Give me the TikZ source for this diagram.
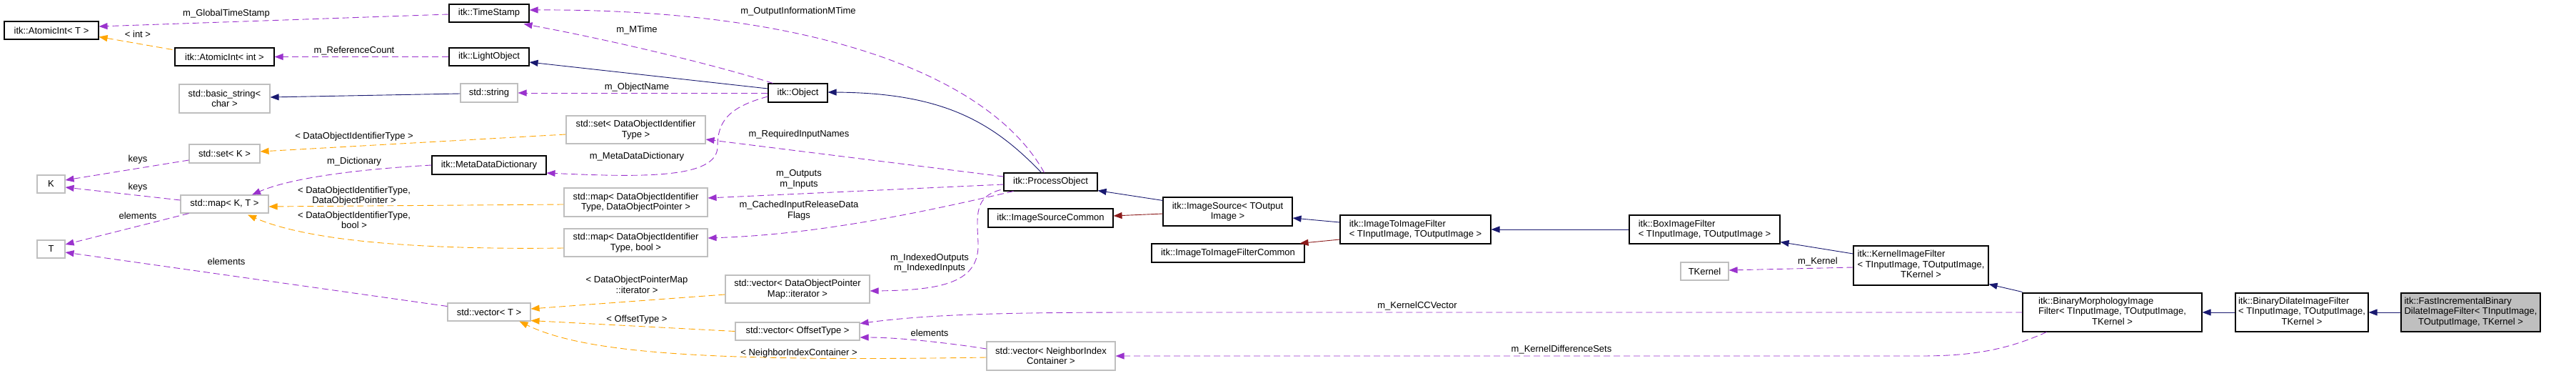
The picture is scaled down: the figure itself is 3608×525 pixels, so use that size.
\documentclass[tikz,border=0pt]{standalone}
\usepackage{fontspec}
\setmainfont{Liberation Sans}
\usetikzlibrary{arrows.meta,calc}
\definecolor{dorchid}{HTML}{9A32CD}
\definecolor{dorange}{HTML}{FFA500}
\definecolor{mnavy}{HTML}{191970}
\definecolor{fbrick}{HTML}{8B1A1A}
\definecolor{gsf}{HTML}{BFBFBF}
\newcommand{\dfont}{\fontsize{13}{14.5}\selectfont}
\newcommand{\cl}[1]{\multicolumn{1}{@{}c@{}}{#1}}
\tikzset{
  nDoc/.style={draw=black, line width=1.1pt, inner sep=0pt, font=\dfont, fill=white},
  nExt/.style={draw=gsf, line width=1.1pt, inner sep=0pt, font=\dfont, fill=white},
  nCur/.style={draw=black, line width=1.1pt, inner sep=0pt, font=\dfont, fill=gsf},
  lbl/.style={inner sep=0pt, font=\dfont, align=center},
  eInh/.style={draw=mnavy, line width=0.9pt, -{Triangle[length=12pt,width=9pt]}},
  eRed/.style={draw=fbrick, line width=0.9pt, -{Triangle[length=12pt,width=9pt]}},
  eUse/.style={draw=dorchid, line width=0.9pt, dash pattern=on 9pt off 5pt, -{Triangle[length=12pt,width=9pt]}},
  eTpl/.style={draw=dorange, line width=0.9pt, dash pattern=on 9pt off 5pt, -{Triangle[length=12pt,width=9pt]}}
}
\begin{document}
\begin{tikzpicture}[x=1pt,y=-1pt]
\fill[white] (0,0) rectangle (3608,525);
\useasboundingbox (0,0) rectangle (3608,525);

% ---------- nodes ----------
\node[nDoc, minimum width=132pt, minimum height=25pt] (aiT) at (72,42.5) {itk::AtomicInt< T >};
\node[nDoc, minimum width=139pt, minimum height=25pt] (aiInt) at (314.5,79.5) {itk::AtomicInt< int >};
\node[nExt, minimum width=127pt, minimum height=40pt, align=center] (bstr) at (314.5,138) {std::basic\_string<\\char >};
\node[nExt, minimum width=99pt, minimum height=26pt] (setK) at (314.5,215) {std::set< K >};
\node[nExt, minimum width=39pt, minimum height=25pt] (K) at (71.5,257.5) {K};
\node[nExt, minimum width=123pt, minimum height=25pt] (mapKT) at (314.5,285.5) {std::map< K, T >};
\node[nExt, minimum width=39pt, minimum height=25pt] (T) at (71.5,348.5) {T};
\node[nDoc, minimum width=112pt, minimum height=25pt] (ts) at (685,18.5) {itk::TimeStamp};
\node[nDoc, minimum width=112pt, minimum height=25pt] (lo) at (685,79.5) {itk::LightObject};
\node[nExt, minimum width=80pt, minimum height=26pt] (str) at (685,130) {std::string};
\node[nDoc, minimum width=160pt, minimum height=26pt] (mdd) at (685,231) {itk::MetaDataDictionary};
\node[nExt, minimum width=116pt, minimum height=25pt] (vecT) at (685,436.5) {std::vector< T >};
\node[nExt, minimum width=195pt, minimum height=39pt, align=center] (setD) at (890.5,181.5) {std::set< DataObjectIdentifier\\Type >};
\node[nExt, minimum width=201pt, minimum height=40pt, align=center] (mapDP) at (890.5,283) {std::map< DataObjectIdentifier\\Type, DataObjectPointer >};
\node[nExt, minimum width=201pt, minimum height=39pt, align=center] (mapDB) at (890.5,339.5) {std::map< DataObjectIdentifier\\Type, bool >};
\node[nDoc, minimum width=83pt, minimum height=26pt] (obj) at (1117.5,130) {itk::Object};
\node[nExt, minimum width=202pt, minimum height=39pt, align=center] (vecDPM) at (1117,404.5) {std::vector< DataObjectPointer\\Map::iterator >};
\node[nExt, minimum width=174pt, minimum height=25pt] (vecOff) at (1117,463.5) {std::vector< OffsetType >};
\node[nDoc, minimum width=131pt, minimum height=25pt] (po) at (1471.5,254.5) {itk::ProcessObject};
\node[nDoc, minimum width=175pt, minimum height=26pt] (isc) at (1471.5,305) {itk::ImageSourceCommon};
\node[nExt, minimum width=180pt, minimum height=40pt, align=center] (vecNIC) at (1472,498) {std::vector< NeighborIndex\\Container >};
\node[nDoc, minimum width=181pt, minimum height=40pt, align=center] (is) at (1719.5,296) {itk::ImageSource< TOutput\\Image >};
\node[nDoc, minimum width=214pt, minimum height=26pt] (itifc) at (1720,354) {itk::ImageToImageFilterCommon};
\node[nDoc, minimum width=211pt, minimum height=40pt, align=left] (itif) at (1982.5,321) {itk::ImageToImageFilter\\< TInputImage, TOutputImage >};
\node[nDoc, minimum width=211pt, minimum height=40pt, align=left] (box) at (2387.5,321) {itk::BoxImageFilter\\< TInputImage, TOutputImage >};
\node[nExt, minimum width=67pt, minimum height=25pt] (tk) at (2387.5,379.5) {TKernel};
\node[nDoc, minimum width=189pt, minimum height=55pt] (kif) at (2690.5,371.5) {\begin{tabular}{@{}l@{}}itk::KernelImageFilter\\< TInputImage, TOutputImage,\\\cl{TKernel >}\end{tabular}};
\node[nDoc, minimum width=251pt, minimum height=54pt] (bm) at (2958.5,437) {\begin{tabular}{@{}l@{}}itk::BinaryMorphologyImage\\Filter< TInputImage, TOutputImage,\\\cl{TKernel >}\end{tabular}};
\node[nDoc, minimum width=186pt, minimum height=54pt] (bd) at (3224,437) {\begin{tabular}{@{}l@{}}itk::BinaryDilateImageFilter\\< TInputImage, TOutputImage,\\\cl{TKernel >}\end{tabular}};
\node[nCur, minimum width=195pt, minimum height=54pt] (fib) at (3460.5,437) {\begin{tabular}{@{}l@{}}itk::FastIncrementalBinary\\DilateImageFilter< TInputImage,\\\cl{TOutputImage, TKernel >}\end{tabular}};

% ---------- edges ----------
\draw[eUse] ($(ts.west)+(0,1.5)$) -- ($(aiT.east)+(0,-5.5)$);
\draw[eTpl] ($(aiInt.north west)+(-3,3)$) -- ($(aiT.east)+(0,9)$);
\draw[eUse] (lo.west) -- (aiInt.east);
\draw[eInh] ($(str.west)+(0,1)$) -- ($(bstr.east)+(0,-2)$);
\draw[eUse] ($(obj.north west)+(7,0)$) .. controls (1000,90) and (850,55) .. ($(ts.south east)+(-8,2)$);
\draw[eUse] ($(po.north)+(-9,0)$) .. controls (1390,110) and (1150,12) .. ($(ts.east)+(0,-4.5)$);
\draw[eInh] ($(obj.west)+(0,-6)$) -- ($(lo.east)+(0,7.5)$);
\draw[eUse] (obj.west) -- (str.east);
\draw[eUse] ($(obj.west)+(0,5)$) .. controls (1020,150) and (1005,170) .. (1005,205) .. controls (1005,250) and (900,248) .. ($(mdd.east)+(0,11)$);
\draw[eUse] ($(po.west)+(0,-7.5)$) -- ($(setD.east)+(0,13.5)$);
\draw[eUse] ($(po.west)+(0,3.5)$) -- ($(mapDP.east)+(0,-6)$);
\draw[eUse] ($(po.south west)+(14,0)$) .. controls (1300,295) and (1150,328) .. ($(mapDB.east)+(0,-6.5)$);
\draw[eUse] ($(po.south west)+(-4,-2)$) .. controls (1365,275) and (1368,300) .. (1370,340) .. controls (1372,395) and (1320,406) .. ($(vecDPM.east)+(0,2.5)$);
\draw[eTpl] ($(vecDPM.west)+(0,7.5)$) -- ($(vecT.east)+(0,-4.5)$);
\draw[eTpl] (vecOff.west) -- ($(vecT.east)+(0,12)$);
\draw[eTpl] ($(vecNIC.west)+(0,2)$) .. controls (1000,506) and (820,495) .. ($(vecT.south east)+(-16,0)$);
\draw[eUse] ($(vecNIC.west)+(0,-10)$) .. controls (1330,480) and (1260,472) .. ($(vecOff.east)+(0,8.5)$);
\draw[eUse] (bm.west) -- (1600,437) .. controls (1400,437) and (1300,440) .. ($(vecOff.east)+(0,-11)$);
\draw[eUse] ($(bm.south west)+(34,0)$) .. controls (2810,490) and (2760,498) .. (2690,498) -- (vecNIC.east);
\draw[eInh] ($(po.north)+(-13,0)$) .. controls (1390,170) and (1320,130) .. ($(obj.east)+(0,-1)$);
\draw[eInh] ($(is.north west)+(0,5)$) -- ($(po.south east)+(0,-1)$);
\draw[eRed] ($(is.west)+(0,3)$) -- ($(isc.east)+(0,-3)$);
\draw[eInh] ($(itif.west)+(0,-10)$) -- ($(is.east)+(0,9)$);
\draw[eRed] ($(itif.west)+(0,14)$) -- ($(itifc.north east)+(-7,0)$);
\draw[eInh] (box.west) -- (itif.east);
\draw[eInh] ($(kif.west)+(0,-16.5)$) -- ($(box.south east)+(0,-3)$);
\draw[eUse] ($(kif.west)+(0,2.5)$) -- ($(tk.east)+(0,-1.5)$);
\draw[eInh] ($(bm.north west)+(0,-1)$) -- ($(kif.south east)+(0,-2)$);
\draw[eInh] (bd.west) -- (bm.east);
\draw[eInh] (fib.west) -- (bd.east);
\draw[eTpl] ($(setD.west)+(0,6.5)$) -- ($(setK.east)+(0,-3)$);
\draw[eUse] ($(setK.west)+(0,9)$) -- ($(K.east)+(0,-5.5)$);
\draw[eUse] ($(mapKT.west)+(0,-5.5)$) -- ($(K.east)+(0,4.5)$);
\draw[eUse] ($(mapKT.south west)+(12,0)$) -- ($(T.east)+(0,-6.5)$);
\draw[eUse] ($(vecT.west)+(0,-8)$) -- ($(T.east)+(0,4.5)$);
\draw[eUse] (mdd.west) .. controls (480,238) and (400,252) .. ($(mapKT.north)+(38.5,0)$);
\draw[eTpl] ($(mapDP.west)+(0,3)$) -- ($(mapKT.east)+(0,3.5)$);
\draw[eTpl] ($(mapDB.west)+(0,7.5)$) .. controls (550,350) and (420,332) .. ($(mapKT.south)+(32.5,2)$);

% ---------- labels ----------
\node[lbl] (l1) at (317,19) {m\_GlobalTimeStamp};
\node[lbl] (l2) at (193,48) {< int >};
\node[lbl] (l3) at (496,71) {m\_ReferenceCount};
\node[lbl] (l4) at (496,191) {< DataObjectIdentifierType >};
\node[lbl] (l5) at (496,226) {m\_Dictionary};
\node[lbl] (l6) at (193,223) {keys};
\node[lbl] (l7) at (193,262) {keys};
\node[lbl] (l8) at (193,302) {elements};
\node[lbl] (l9) at (317,366) {elements};
\node[lbl] (l10) at (496,274) {< DataObjectIdentifierType,\\DataObjectPointer >};
\node[lbl] (l11) at (496,308) {< DataObjectIdentifierType,\\bool >};
\node[lbl] (l12) at (892,42) {m\_MTime};
\node[lbl] (l13) at (892,122) {m\_ObjectName};
\node[lbl] (l14) at (892,219) {m\_MetaDataDictionary};
\node[lbl] (l15) at (892,398.5) {< DataObjectPointerMap\\::iterator >};
\node[lbl] (l16) at (892,447) {< OffsetType >};
\node[lbl] (l17) at (1118,16) {m\_OutputInformationMTime};
\node[lbl] (l18) at (1119,188) {m\_RequiredInputNames};
\node[lbl] (l19) at (1119,251) {m\_Outputs\\m\_Inputs};
\node[lbl] (l20) at (1119,294.5) {m\_CachedInputReleaseData\\Flags};
\node[lbl] (l21) at (1302,368) {m\_IndexedOutputs\\m\_IndexedInputs};
\node[lbl] (l22) at (1302,466) {elements};
\node[lbl] (l23) at (1119,494) {< NeighborIndexContainer >};
\node[lbl] (l24) at (1985,428) {m\_KernelCCVector};
\node[lbl] (l25) at (2546,366) {m\_Kernel};
\node[lbl] (l26) at (2187,489) {m\_KernelDifferenceSets};
\end{tikzpicture}
\end{document}
